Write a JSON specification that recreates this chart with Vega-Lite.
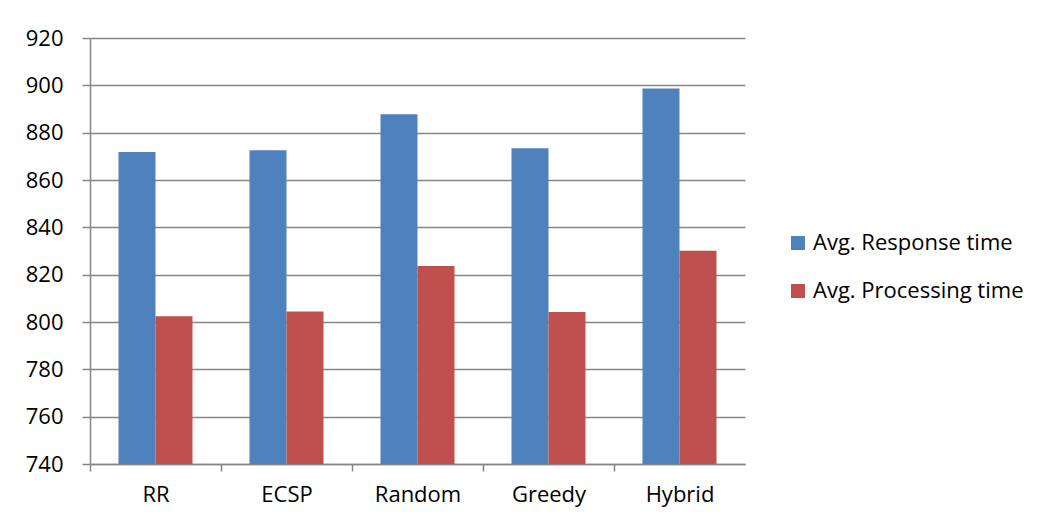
{
  "$schema": "https://vega.github.io/schema/vega-lite/v6.json",
  "width": 655,
  "height": 426,
  "autosize": {"type": "none"},
  "padding": {"left": 90, "top": 38, "right": 299, "bottom": 63},
  "background": "white",
  "data": {
    "values": [
      {"algo": "RR", "series": "Avg. Response time", "value": 871.8},
      {"algo": "RR", "series": "Avg. Processing time", "value": 802.4},
      {"algo": "ECSP", "series": "Avg. Response time", "value": 872.6},
      {"algo": "ECSP", "series": "Avg. Processing time", "value": 804.4},
      {"algo": "Random", "series": "Avg. Response time", "value": 887.8},
      {"algo": "Random", "series": "Avg. Processing time", "value": 823.7},
      {"algo": "Greedy", "series": "Avg. Response time", "value": 873.4},
      {"algo": "Greedy", "series": "Avg. Processing time", "value": 804.2},
      {"algo": "Hybrid", "series": "Avg. Response time", "value": 898.7},
      {"algo": "Hybrid", "series": "Avg. Processing time", "value": 830.1}
    ]
  },
  "mark": {"type": "bar", "clip": true},
  "encoding": {
    "x": {
      "field": "algo",
      "type": "nominal",
      "sort": ["RR", "ECSP", "Random", "Greedy", "Hybrid"],
      "scale": {"paddingInner": 0.435, "paddingOuter": 0.2175},
      "axis": {
        "title": null,
        "labelAngle": 0,
        "labelFont": "Open Sans",
        "labelFontSize": 22,
        "labelColor": "#000000",
        "labelPadding": 13,
        "tickOffset": -65.5,
        "labelOffset": 65.5,
        "tickSize": 7,
        "tickColor": "#868686",
        "tickWidth": 1.5,
        "domainColor": "#868686",
        "domainWidth": 1.5,
        "grid": false
      }
    },
    "xOffset": {
      "field": "series",
      "type": "nominal",
      "sort": ["Avg. Response time", "Avg. Processing time"],
      "scale": {"paddingInner": 0, "paddingOuter": 0}
    },
    "y": {
      "field": "value",
      "type": "quantitative",
      "scale": {"domain": [740, 920], "zero": false, "nice": false},
      "axis": {
        "title": null,
        "values": [740, 760, 780, 800, 820, 840, 860, 880, 900, 920],
        "labelFont": "Open Sans",
        "labelFontSize": 22,
        "labelColor": "#000000",
        "labelPadding": 19,
        "tickSize": 8,
        "tickColor": "#868686",
        "tickWidth": 1.5,
        "domainColor": "#868686",
        "domainWidth": 1.5,
        "grid": true,
        "gridColor": "#868686",
        "gridWidth": 1.5
      }
    },
    "color": {
      "field": "series",
      "type": "nominal",
      "sort": ["Avg. Response time", "Avg. Processing time"],
      "scale": {
        "domain": ["Avg. Response time", "Avg. Processing time"],
        "range": ["#4F81BD", "#C0504D"]
      },
      "legend": {
        "title": null,
        "orient": "none",
        "legendX": 697,
        "legendY": 194,
        "padding": 0,
        "symbolType": "square",
        "symbolSize": 196,
        "symbolStrokeWidth": 0,
        "labelFont": "Open Sans",
        "labelFontSize": 22,
        "labelColor": "#000000",
        "labelOffset": 4,
        "rowPadding": 26,
        "labelLimit": 400
      }
    }
  },
  "config": {
    "view": {"stroke": null}
  }
}
